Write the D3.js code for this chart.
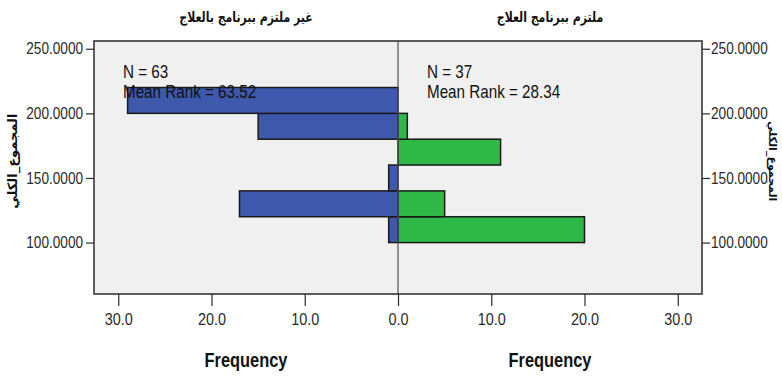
<!DOCTYPE html>
<html>
<head>
<meta charset="utf-8">
<script src="https://cdn.jsdelivr.net/npm/d3@7"></script>
<style>
  html, body { margin: 0; padding: 0; background: #ffffff; }
  svg { display: block; }
  .tick text { font-family: "Liberation Sans", Arial, sans-serif; font-size: 16px; fill: #2a2a2a; }
  .tick line { stroke: #2a2a2a; stroke-width: 1.2; }
  .domain { display: none; }
</style>
</head>
<body>
<svg id="chart" width="782" height="377"></svg>
<script>
// Histogram bins of total score (lower edge of each 20-point bin)
const binStarts = [100, 120, 140, 160, 180, 200];
const binWidth = 20;
// Frequencies per bin for each group
const nonAdherentCounts = [1, 17, 1, 0, 15, 29];
const adherentCounts = [20, 5, 0, 11, 1, 0];
// Group titles and summary statistics
const groupTitles = ["غير ملتزم ببرنامج بالعلاج", "ملتزم ببرنامج العلاج"];
const groupN = [63, 37];
const groupMeanRank = ["63.52", "28.34"];
// Axis ticks
const yTicks = [100, 150, 200, 250];
const xTicks = [0, 10, 20, 30];
const yLabel = "المجموع_الكلي";
const xLabel = "Frequency";

const svg = d3.select("#chart");

const frame = { left: 94, right: 702, top: 41, bottom: 294 };
const mid = 398;

const y = d3.scaleLinear().domain([60.2, 256]).range([frame.bottom, frame.top]);
const xL = d3.scaleLinear().domain([0, 32.6]).range([mid, frame.left]);
const xR = d3.scaleLinear().domain([0, 32.6]).range([mid, frame.right]);

// Narrow the glyphs of a text selection to a fraction of their natural width
function condense(sel, k) {
  sel.each(function () {
    const w = this.getComputedTextLength();
    d3.select(this).attr("textLength", w * k).attr("lengthAdjust", "spacingAndGlyphs");
  });
}

// Plot background
svg.append("rect")
  .attr("x", frame.left).attr("y", frame.top)
  .attr("width", frame.right - frame.left).attr("height", frame.bottom - frame.top)
  .attr("fill", "#f0f0f0");

// Bars: left group grows leftwards, right group rightwards
const bins = binStarts.map((b, i) => ({ lo: b, hi: b + binWidth, left: nonAdherentCounts[i], right: adherentCounts[i] }));

svg.append("g").selectAll("rect")
  .data(bins.filter(d => d.left > 0))
  .join("rect")
  .attr("x", d => xL(d.left))
  .attr("y", d => y(d.hi))
  .attr("width", d => xL(0) - xL(d.left))
  .attr("height", d => y(d.lo) - y(d.hi))
  .attr("fill", "#3e58ac")
  .attr("stroke", "#1a1a1a")
  .attr("stroke-width", 1.5);

svg.append("g").selectAll("rect")
  .data(bins.filter(d => d.right > 0))
  .join("rect")
  .attr("x", xR(0))
  .attr("y", d => y(d.hi))
  .attr("width", d => xR(d.right) - xR(0))
  .attr("height", d => y(d.lo) - y(d.hi))
  .attr("fill", "#2eb848")
  .attr("stroke", "#1a1a1a")
  .attr("stroke-width", 1.5);

// Centre divider between the two panels
svg.append("line")
  .attr("x1", mid).attr("x2", mid)
  .attr("y1", frame.top).attr("y2", frame.bottom)
  .attr("stroke", "#555").attr("stroke-width", 1.2);

svg.append("rect")
  .attr("x", frame.left).attr("y", frame.top)
  .attr("width", frame.right - frame.left).attr("height", frame.bottom - frame.top)
  .attr("fill", "none").attr("stroke", "#2a2a2a").attr("stroke-width", 1.5);

// Y axes on both sides
const yAxL = svg.append("g")
  .attr("transform", `translate(${frame.left},0)`)
  .call(d3.axisLeft(y).tickValues(yTicks).tickFormat(d3.format(".4f")).tickSize(8).tickPadding(3));
const yAxR = svg.append("g")
  .attr("transform", `translate(${frame.right},0)`)
  .call(d3.axisRight(y).tickValues(yTicks).tickFormat(d3.format(".4f")).tickSize(8).tickPadding(1));
condense(yAxL.selectAll("text"), 0.85);
condense(yAxR.selectAll("text"), 0.85);

// X axes for each panel
const xAxL = svg.append("g")
  .attr("transform", `translate(0,${frame.bottom})`)
  .call(d3.axisBottom(xL).tickValues(xTicks.filter(t => t > 0)).tickFormat(d3.format(".1f")).tickSize(12).tickPadding(8));
const xAxR = svg.append("g")
  .attr("transform", `translate(0,${frame.bottom})`)
  .call(d3.axisBottom(xR).tickValues(xTicks).tickFormat(d3.format(".1f")).tickSize(12).tickPadding(8));
condense(xAxL.selectAll("text"), 0.9);
condense(xAxR.selectAll("text"), 0.9);

// Panel titles and frequency labels
const titleFont = "'DejaVu Sans', 'Noto Sans', sans-serif";
[[xL, 0], [xR, 1]].forEach(([sc, i]) => {
  const cx = (sc(0) + sc(32.6)) / 2;
  svg.append("text")
    .attr("x", cx).attr("y", 22)
    .attr("text-anchor", "middle")
    .attr("font-family", titleFont).attr("font-weight", "bold").attr("font-size", 14)
    .attr("fill", "#111")
    .text(groupTitles[i])
    .call(condense, 0.78);
  svg.append("text")
    .attr("x", cx).attr("y", 367)
    .attr("text-anchor", "middle")
    .attr("font-family", "'Liberation Sans', Arial, sans-serif")
    .attr("font-weight", "bold").attr("font-size", 20)
    .attr("fill", "#111")
    .text(xLabel)
    .call(condense, 0.82);
});

// Group statistics
const statFont = "'Liberation Sans', Arial, sans-serif";
[[frame.left, 0], [mid, 1]].forEach(([x0, i]) => {
  const g = svg.append("g").attr("font-family", statFont).attr("font-size", 19).attr("fill", "#111");
  g.append("text").attr("x", x0 + 29).attr("y", 78).text(`N = ${groupN[i]}`).call(condense, 0.8);
  g.append("text").attr("x", x0 + 29).attr("y", 98).text(`Mean Rank = ${groupMeanRank[i]}`).call(condense, 0.8);
});

// Vertical axis titles
svg.append("text")
  .attr("transform", `translate(17,${y(163)}) rotate(-90)`)
  .attr("text-anchor", "middle")
  .attr("font-family", titleFont).attr("font-weight", "bold").attr("font-size", 13)
  .attr("fill", "#111")
  .text(yLabel);
svg.append("text")
  .attr("transform", `translate(769,${y(163)}) rotate(90)`)
  .attr("text-anchor", "middle")
  .attr("font-family", titleFont).attr("font-weight", "bold").attr("font-size", 11)
  .attr("fill", "#111")
  .text(yLabel);
</script>
</body>
</html>
